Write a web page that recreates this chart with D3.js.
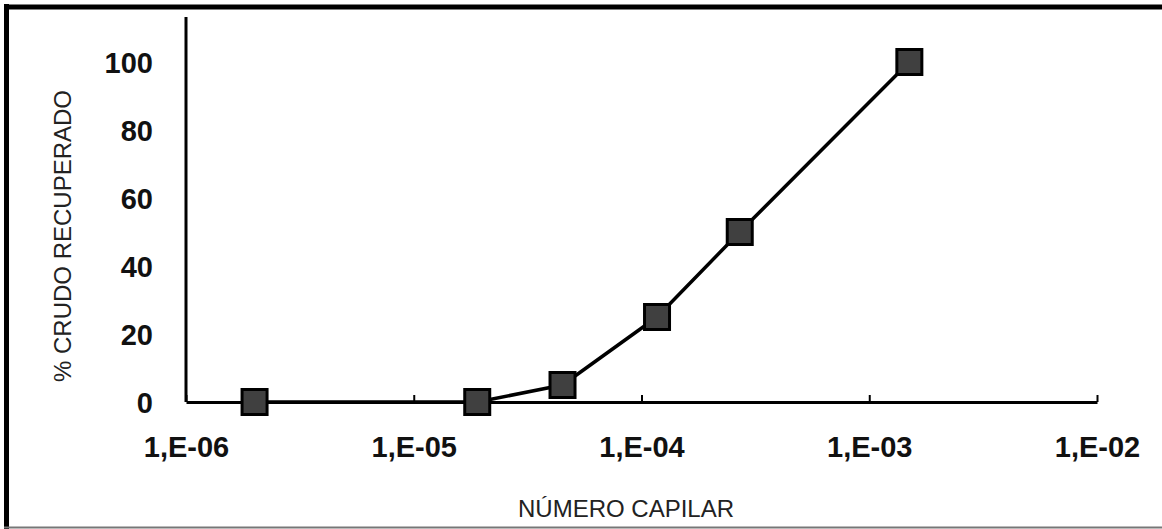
<!DOCTYPE html>
<html>
<head>
<meta charset="utf-8">
<script src="https://cdn.jsdelivr.net/npm/d3@7"></script>
<style>
  html, body { margin: 0; padding: 0; background: #fff; }
  svg { display: block; }
</style>
</head>
<body>
<svg id="chart" width="1162" height="529"></svg>
<script>
// Capillary number vs. recovered crude oil (%)
const capillaryNumber = [2e-6, 1.9e-5, 4.5e-5, 1.17e-4, 2.7e-4, 1.5e-3];
const recoveredPct    = [0, 0, 5, 25, 50, 100];
const xTicks = [1e-6, 1e-5, 1e-4, 1e-3, 1e-2];
const xTickLabels = ["1,E-06", "1,E-05", "1,E-04", "1,E-03", "1,E-02"];
const yTicks = [0, 20, 40, 60, 80, 100];
const yTitle = "% CRUDO RECUPERADO";
const xTitle = "NÚMERO CAPILAR";

const svg = d3.select("#chart");
const W = 1162, H = 529;

// outer frame
svg.append("line").attr("x1", 4).attr("x2", W).attr("y1", 7).attr("y2", 7)
  .attr("stroke", "#000").attr("stroke-width", 5);
svg.append("line").attr("x1", 6.5).attr("x2", 6.5).attr("y1", 4).attr("y2", H)
  .attr("stroke", "#000").attr("stroke-width", 5);
svg.append("line").attr("x1", 4).attr("x2", W).attr("y1", 527.5).attr("y2", 527.5)
  .attr("stroke", "#777").attr("stroke-width", 2);

const x = d3.scaleLog().domain([1e-6, 1e-2]).range([186, 1097]);
const y = d3.scaleLinear().domain([0, 100]).range([402, 62]);
const yTop = 113.2;

const font = "'Liberation Sans', Arial, sans-serif";

// y axis: line, no tick marks, bold labels
const yAxis = d3.axisLeft(y).tickValues(yTicks).tickSize(0).tickPadding(33)
  .tickFormat(d3.format("d"));
const gy = svg.append("g").attr("transform", "translate(186,0)").call(yAxis);
gy.select(".domain").remove();
gy.append("line").attr("x1", 0).attr("x2", 0)
  .attr("y1", y(yTop)).attr("y2", y(0))
  .attr("stroke", "#000").attr("stroke-width", 3);
gy.selectAll(".tick text")
  .attr("font-family", font).attr("font-size", 29).attr("font-weight", "bold")
  .attr("fill", "#111").attr("dy", "0.36em");

// x axis: ticks point upward, labels below
const xAxis = d3.axisBottom(x).tickValues(xTicks).tickSizeInner(-7).tickSizeOuter(0)
  .tickPadding(40)
  .tickFormat((d, i) => xTickLabels[i]);
const gx = svg.append("g").attr("transform", "translate(0,402)").call(xAxis);
gx.select(".domain").attr("stroke", "#000").attr("stroke-width", 3);
gx.selectAll(".tick line").attr("stroke", "#000").attr("stroke-width", 2);
gx.selectAll(".tick text")
  .attr("font-family", font).attr("font-size", 29).attr("font-weight", "bold")
  .attr("fill", "#111").attr("dy", "0.5em");

// axis titles
svg.append("text")
  .attr("transform", `translate(71,236) rotate(-90)`)
  .attr("text-anchor", "middle")
  .attr("font-family", font).attr("font-size", 24).attr("fill", "#222")
  .text(yTitle);
svg.append("text")
  .attr("x", 626).attr("y", 517)
  .attr("text-anchor", "middle")
  .attr("font-family", font).attr("font-size", 24).attr("fill", "#222")
  .text(xTitle);

// data line and markers
const pts = capillaryNumber.map((c, i) => [c, recoveredPct[i]]);
const line = d3.line().x(d => x(d[0])).y(d => y(d[1]));
svg.append("path").datum(pts).attr("d", line)
  .attr("fill", "none").attr("stroke", "#000").attr("stroke-width", 3.5)
  .attr("stroke-linejoin", "round");

const s = 25;
svg.selectAll("rect.marker").data(pts).enter().append("rect")
  .attr("class", "marker")
  .attr("x", d => x(d[0]) - s / 2).attr("y", d => y(d[1]) - s / 2)
  .attr("width", s).attr("height", s)
  .attr("fill", "#404040").attr("stroke", "#000").attr("stroke-width", 3);
</script>
</body>
</html>
